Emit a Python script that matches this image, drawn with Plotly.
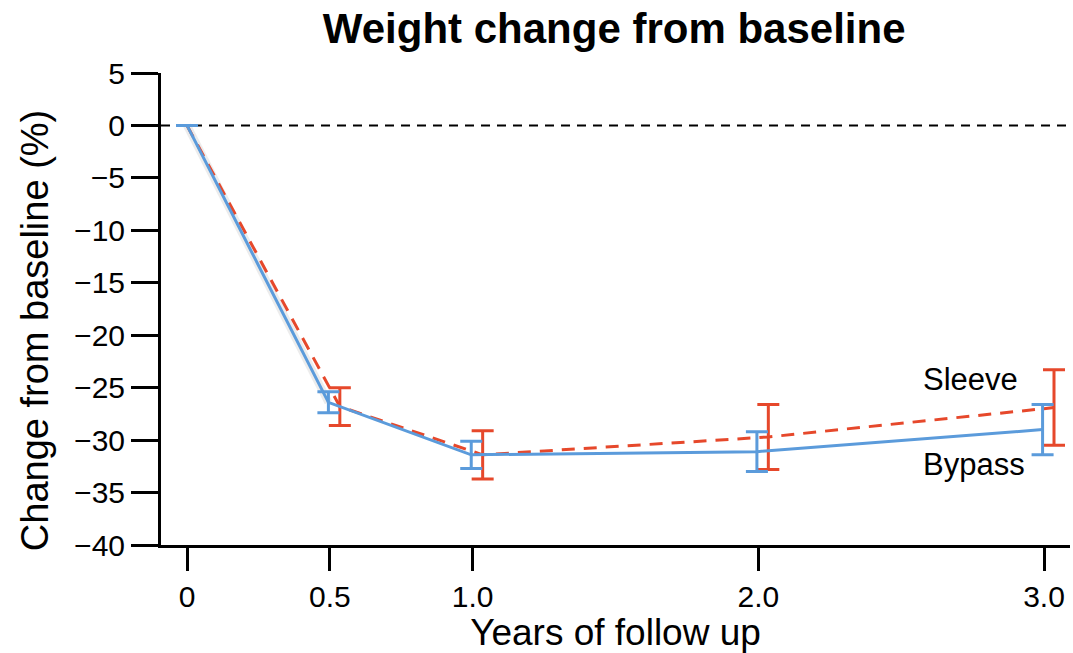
import plotly.graph_objects as go

# Follow-up time points (years) and mean % change from baseline with error half-widths
years = [0, 0.5, 1.0, 2.0, 3.0]
tick_labels = ["0", "0.5", "1.0", "2.0", "3.0"]

bypass_mean = [0, -26.4, -31.4, -31.1, -29.0]
bypass_err = [0, 1.0, 1.3, 1.9, 2.4]

sleeve_mean = [0, -26.8, -31.4, -29.7, -26.9]
sleeve_err = [0, 1.8, 2.3, 3.1, 3.6]

BLUE = "#5B9BDB"
RED = "#E6482B"
FONT = "Liberation Sans, Arial, sans-serif"

# small horizontal dodge so the two groups' error bars don't overlap
bypass_dodge = -0.005
sleeve_dodge = 0.035
bypass_x = [t + (bypass_dodge if t > 0 else 0) for t in years]
sleeve_x = [t + (sleeve_dodge if t > 0 else 0) for t in years]

fig = go.Figure()

# faint grey shading along the first descent
fig.add_trace(go.Scatter(
    x=bypass_x[:2], y=bypass_mean[:2], mode="lines",
    line=dict(color="rgba(180,180,180,0.25)", width=8),
    hoverinfo="skip", showlegend=False,
))

fig.add_trace(go.Scatter(
    x=sleeve_x, y=sleeve_mean, mode="lines", name="Sleeve",
    line=dict(color=RED, width=3, dash="13px,9px"),
    error_y=dict(type="data", array=sleeve_err, visible=True,
                 color=RED, thickness=3, width=11),
    showlegend=False,
))

fig.add_trace(go.Scatter(
    x=bypass_x, y=bypass_mean, mode="lines", name="Bypass",
    line=dict(color=BLUE, width=3),
    error_y=dict(type="data", array=bypass_err, visible=True,
                 color=BLUE, thickness=3, width=11),
    showlegend=False,
))

# zero reference line
fig.add_shape(type="line", xref="paper", x0=0, x1=1, yref="y", y0=0, y1=0,
              line=dict(color="black", width=2, dash="9px,7px"), layer="below")

# group labels near the last time point
fig.add_annotation(x=2.569, y=-24.26, xanchor="left", text="Sleeve", showarrow=False,
                   font=dict(family=FONT, size=31, color="black"))
fig.add_annotation(x=2.569, y=-32.28, xanchor="left", text="Bypass", showarrow=False,
                   font=dict(family=FONT, size=31, color="black"))

# y-axis title, placed slightly below the plot-area centre
fig.add_annotation(xref="paper", yref="paper", x=-0.1386, y=0.453,
                   xanchor="center", yanchor="middle", textangle=-90,
                   text="Change from baseline (%)", showarrow=False,
                   font=dict(family=FONT, size=38, color="black"))

fig.update_layout(
    width=1073, height=653,
    margin=dict(l=161, r=3, t=73, b=108),
    paper_bgcolor="white", plot_bgcolor="white",
    font=dict(family=FONT, size=30, color="black"),
    title=dict(text="<b>Weight change from baseline</b>",
               x=0.5724, xanchor="center", y=0.957, yanchor="middle",
               font=dict(family=FONT, size=42, color="black")),
)

fig.update_xaxes(
    range=[-0.091, 3.091], tickvals=years, ticktext=tick_labels,
    showline=True, linecolor="black", linewidth=3,
    ticks="outside", ticklen=23, tickwidth=3, tickcolor="black",
    showgrid=False, zeroline=False,
    tickfont=dict(family=FONT, size=30),
    title=dict(text="Years of follow up", standoff=4,
               font=dict(family=FONT, size=37)),
)

fig.update_yaxes(
    range=[-40, 5], tickvals=list(range(-40, 6, 5)),
    showline=True, linecolor="black", linewidth=3,
    ticks="outside", ticklen=27, tickwidth=3, tickcolor="black",
    showgrid=False, zeroline=False,
    tickfont=dict(family=FONT, size=30),
)

fig.write_html("out.html")
